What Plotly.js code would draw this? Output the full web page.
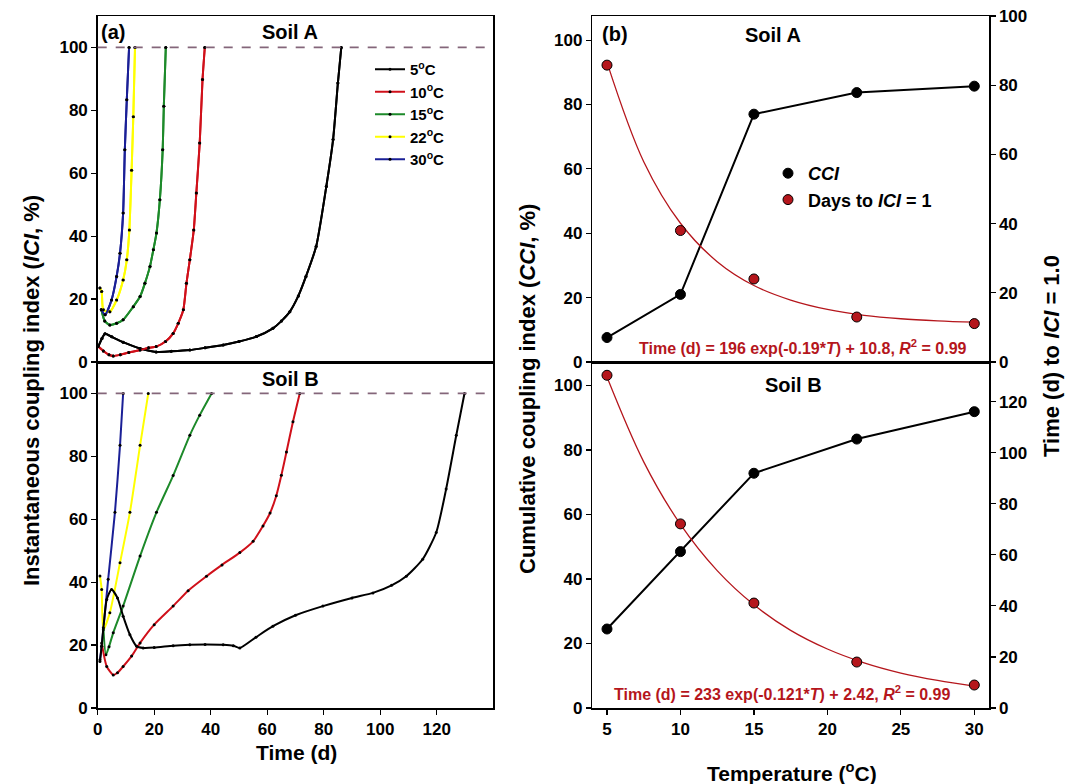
<!DOCTYPE html>
<html>
<head>
<meta charset="utf-8">
<script src="https://cdn.plot.ly/plotly-3.0.1.min.js"></script>
<style>html,body{margin:0;padding:0;background:#fff;}#chart{width:1068px;height:784px;}</style>
</head>
<body>
<div id="chart"></div>
<script>
// ---------- Panel (a): ICI vs time ----------
const tempLabels = ['5<sup>o</sup>C', '10<sup>o</sup>C', '15<sup>o</sup>C', '22<sup>o</sup>C', '30<sup>o</sup>C'];
const lineColors = ['#000000', '#d0101a', '#1d8a2a', '#ffff00', '#1a1f96'];

// Soil A
const tA5  = [0.2, 1.5, 2.6, 5, 9, 15, 20.7, 26, 32.6, 38, 44.4, 50, 56.2, 62, 65, 68, 71, 73.7, 77.3, 80.9, 83.3, 85, 86.2];
const iA5  = [4.9, 7.5, 9.0, 8.0, 6.3, 4.3, 3.2, 3.4, 3.8, 4.5, 5.4, 6.5, 8.1, 10.7, 13, 16, 21, 27.2, 36.7, 55.8, 70.7, 88.7, 100];
const tA10 = [0.2, 2, 4, 5.5, 8, 11, 15, 18, 20.7, 24, 26.7, 28.5, 30.3, 31.4, 32.6, 34, 34.9, 36.1, 37.1, 37.9];
const iA10 = [4.9, 3.5, 2.3, 1.9, 2.3, 3.0, 3.8, 4.5, 4.9, 6.5, 9.1, 12.3, 16.6, 25, 32.5, 42, 53.7, 69.6, 89.8, 100];
const tA15 = [1.3, 2.5, 4.3, 6.7, 9, 12.6, 15, 16.7, 18.5, 19.7, 20.8, 22, 23, 23.4, 24.1];
const iA15 = [16.6, 13, 11.8, 12.3, 13.4, 17.6, 20.8, 25, 30.4, 35.7, 41, 51.6, 67.5, 81.3, 100];
const tA22 = [0.8, 1.4, 2, 4.3, 6.7, 9, 10.3, 11.2, 12, 12.6, 13.2];
const iA22 = [23.5, 22.4, 16.6, 16, 19.7, 26.1, 32.5, 42, 61, 78, 100];
const tA30 = [1.3, 2.6, 4.9, 6.7, 7.9, 9, 9.6, 10.3, 11.1];
const iA30 = [16.6, 15, 19.7, 27.2, 34.6, 47.4, 67.5, 83.4, 100];

// Soil B
const tB5  = [0.8, 1.4, 3.2, 4.9, 7, 9, 11.4, 13.8, 16.1, 20, 26.7, 32.6, 38, 44.4, 48, 50.3, 56, 62, 70, 79.7, 90, 97.4, 104, 109.2, 115, 119.8, 123.3, 126.9, 129.8];
const iB5  = [14.8, 19.6, 34.5, 37.7, 35, 29.2, 23.3, 19.6, 19.1, 19.2, 19.8, 20.1, 20.2, 20.1, 19.8, 19.1, 22.5, 26, 29.5, 32.4, 35, 36.6, 39, 41.9, 47.3, 55.8, 69.6, 86.7, 100];
const tB10 = [1.4, 3.2, 5.5, 7, 9, 12, 15, 20, 26.7, 32, 38.5, 44, 50.3, 55, 58.5, 61, 63.2, 65, 66.8, 69.1, 71.5];
const iB10 = [20.7, 13.2, 10.5, 11.2, 13.2, 16.5, 20.7, 26.5, 32.4, 37.3, 41.9, 45.5, 49.4, 53, 57.9, 62, 67.5, 74, 81.4, 91, 100];
const tB15 = [2, 2.9, 4, 5.5, 9, 15, 20.8, 26.7, 32.6, 36.1, 40.3];
const iB15 = [25.5, 16.9, 19.5, 23.9, 32.4, 48.3, 62.2, 73.9, 86.7, 93.1, 100];
const tB22 = [0.8, 1.4, 2, 4.3, 7.9, 11.4, 15, 17.9];
const iB22 = [42, 37.7, 24.9, 30.3, 46.2, 62.2, 83.5, 100];
const tB30 = [0.8, 1.4, 3.7, 6.1, 7.9, 9];
const iB30 = [15.3, 19.6, 40.9, 62.2, 83.5, 100];

const iciThreshold = [100];

// ---------- Panel (b): CCI and days vs temperature ----------
const temps = [5, 10, 15, 22, 30];
const cciA  = [7.6, 21.0, 77.0, 83.7, 85.7];
const daysA = [85.8, 38.0, 24.0, 13.0, 11.1];
const cciB  = [24.5, 48.5, 72.8, 83.4, 91.9];
const daysB = [130.3, 72.1, 41.1, 18.0, 9.0];
// fitted curves
const fitT     = [5, 7.5, 10, 12.5, 15, 17.5, 20, 22.5, 25, 27.5, 30];
const fitDaysA = [86.6, 57.9, 40.1, 29.0, 22.1, 17.9, 15.2, 13.5, 12.5, 11.9, 11.5];
const fitDaysB = [129.6, 96.4, 71.9, 53.8, 40.4, 30.4, 23.1, 17.7, 13.7, 10.8, 8.6];

const eqA = 'Time (d) = 196 exp(-0.19*<i>T</i>) + 10.8, <i>R</i><sup>2</sup> = 0.99';
const eqB = 'Time (d) = 233 exp(-0.121*<i>T</i>) + 2.42, <i>R</i><sup>2</sup> = 0.99';

// ---------- build ----------
const FONT = 'Liberation Sans, Arial, sans-serif';
const RED = '#b5161c';
const W = 1068, H = 784;
const px = v => v / W;
const py = v => 1 - v / H;

const traces = [];
const setsA = [[tA5, iA5], [tA10, iA10], [tA15, iA15], [tA22, iA22], [tA30, iA30]];
const setsB = [[tB5, iB5], [tB10, iB10], [tB15, iB15], [tB22, iB22], [tB30, iB30]];
function iciTrace(d, k, xa, ya, show) {
  return {
    x: d[0], y: d[1], xaxis: xa, yaxis: ya, type: 'scatter', mode: 'lines+markers',
    name: tempLabels[k], showlegend: show, legend: 'legend',
    line: {color: lineColors[k], width: 2, shape: 'spline', smoothing: 0.6},
    marker: {symbol: 'circle', size: 3, color: '#000'}
  };
}
// draw in reverse so black is on top as in the figure
for (let k = 4; k >= 0; k--) traces.push(iciTrace(setsA[k], k, 'x2', 'y2', false));
for (let k = 4; k >= 0; k--) traces.push(iciTrace(setsB[k], k, 'x', 'y', false));
// legend entries (same data as top panel, drawn again for legend ordering)
for (let k = 0; k < 5; k++) {
  const t = iciTrace(setsA[k], k, 'x2', 'y2', true);
  t.hoverinfo = 'skip';
  traces.push(t);
}

// panel b top (Soil A)
traces.push({x: fitT, y: fitDaysA, xaxis: 'x4', yaxis: 'y6', mode: 'lines', showlegend: false,
  line: {color: RED, width: 1.3, shape: 'spline'}});
traces.push({x: temps, y: cciA, xaxis: 'x4', yaxis: 'y5', mode: 'lines', showlegend: false,
  line: {color: '#000', width: 2}});
traces.push({x: temps, y: cciA, xaxis: 'x4', yaxis: 'y5', mode: 'markers', name: '<i>CCI</i>',
  legend: 'legend2', showlegend: true,
  marker: {size: 10, color: '#000', line: {color: '#000', width: 1}}});
traces.push({x: temps, y: daysA, xaxis: 'x4', yaxis: 'y6', mode: 'markers', name: 'Days to <i>ICI</i> = 1',
  legend: 'legend2', showlegend: true,
  marker: {size: 10, color: RED, line: {color: '#000', width: 1}}});

// panel b bottom (Soil B)
traces.push({x: fitT, y: fitDaysB, xaxis: 'x3', yaxis: 'y4', mode: 'lines', showlegend: false,
  line: {color: RED, width: 1.3, shape: 'spline'}});
traces.push({x: temps, y: cciB, xaxis: 'x3', yaxis: 'y3', mode: 'lines+markers', showlegend: false,
  line: {color: '#000', width: 2},
  marker: {size: 10, color: '#000', line: {color: '#000', width: 1}}});
traces.push({x: temps, y: daysB, xaxis: 'x3', yaxis: 'y4', mode: 'markers', showlegend: false,
  marker: {size: 10, color: RED, line: {color: '#000', width: 1}}});

const tickFont = {family: FONT, size: 17, color: '#000', weight: 'bold'};
const dL = [px(97.7), px(493.3)];
const dR = [px(592.3), px(989)];
const dTop = [py(362), py(16)];
const dBot = [py(708), py(362)];
const axBase = {showline: true, linecolor: '#000', linewidth: 1.5, ticks: 'outside', ticklen: 5,
  tickcolor: '#000', tickwidth: 1.2, showgrid: false, zeroline: false, tickfont: tickFont, fixedrange: true};

const layout = {
  width: W, height: H, margin: {l: 0, r: 0, t: 0, b: 0},
  paper_bgcolor: '#fff', plot_bgcolor: 'rgba(0,0,0,0)',
  font: {family: FONT, color: '#000'},
  xaxis:  Object.assign({}, axBase, {domain: dL, range: [0, 140], anchor: 'y', tickvals: [0, 20, 40, 60, 80, 100, 120], mirror: true}),
  yaxis:  Object.assign({}, axBase, {domain: dBot, range: [0, 110], anchor: 'x', tickvals: [0, 20, 40, 60, 80, 100], mirror: true}),
  xaxis2: Object.assign({}, axBase, {domain: dL, range: [0, 140], anchor: 'y2', ticks: '', showticklabels: false, mirror: true}),
  yaxis2: Object.assign({}, axBase, {domain: dTop, range: [0, 110], anchor: 'x2', tickvals: [0, 20, 40, 60, 80, 100], mirror: true}),
  xaxis3: Object.assign({}, axBase, {domain: dR, range: [4, 31], anchor: 'y3', tickvals: [5, 10, 15, 20, 25, 30], mirror: true}),
  yaxis3: Object.assign({}, axBase, {domain: dBot, range: [0, 107.3], anchor: 'x3', tickvals: [0, 20, 40, 60, 80, 100]}),
  yaxis4: Object.assign({}, axBase, {domain: dBot, range: [0, 135.5], anchor: 'x3', overlaying: 'y3', side: 'right', tickvals: [0, 20, 40, 60, 80, 100, 120]}),
  xaxis4: Object.assign({}, axBase, {domain: dR, range: [4, 31], anchor: 'y5', ticks: '', showticklabels: false, mirror: true}),
  yaxis5: Object.assign({}, axBase, {domain: dTop, range: [0, 107.5], anchor: 'x4', tickvals: [0, 20, 40, 60, 80, 100]}),
  yaxis6: Object.assign({}, axBase, {domain: dTop, range: [0, 100], anchor: 'x4', overlaying: 'y5', side: 'right', tickvals: [0, 20, 40, 60, 80, 100]}),
  legend: {x: px(370), y: py(53), xanchor: 'left', yanchor: 'top', bgcolor: 'rgba(0,0,0,0)',
    font: {family: FONT, size: 15, color: '#000', weight: 'bold'}, tracegroupgap: 0, itemwidth: 30},
  legend2: {x: px(768), y: py(155), xanchor: 'left', yanchor: 'top', bgcolor: 'rgba(0,0,0,0)',
    font: {family: FONT, size: 18, color: '#000', weight: 'bold'}, tracegroupgap: 0},
  shapes: [
    {type: 'line', xref: 'x2 domain', x0: 0, x1: 1, yref: 'y2', y0: iciThreshold[0], y1: iciThreshold[0],
      line: {color: '#84667a', width: 1.8, dash: 'dash'}},
    {type: 'line', xref: 'x domain', x0: 0, x1: 1, yref: 'y', y0: iciThreshold[0], y1: iciThreshold[0],
      line: {color: '#84667a', width: 1.8, dash: 'dash'}}
  ],
  annotations: []
};

function ann(text, x, y, opts) {
  layout.annotations.push(Object.assign({text: text, xref: 'paper', yref: 'paper', x: px(x), y: py(y),
    showarrow: false, xanchor: 'center', yanchor: 'middle',
    font: {family: FONT, size: 20, color: '#000', weight: 'bold'}}, opts || {}));
}
ann('(a)', 99, 32, {xanchor: 'left'});
ann('Soil A', 290, 32);
ann('Soil B', 290, 379);
ann('(b)', 600, 34, {xanchor: 'left'});
ann('Soil A', 773, 35);
ann('Soil B', 793, 385);
ann(eqA, 803, 347, {font: {family: FONT, size: 16, color: RED, weight: 'bold'}});
ann(eqB, 782, 693, {font: {family: FONT, size: 16, color: RED, weight: 'bold'}});
ann('Time (d)', 296, 752, {font: {family: FONT, size: 21, color: '#000', weight: 'bold'}});
ann('Temperature (<sup>o</sup>C)', 792, 772, {font: {family: FONT, size: 21, color: '#000', weight: 'bold'}});
ann('Instantaneous coupling index (<i>ICI</i>, %)', 31, 391, {textangle: -90, font: {family: FONT, size: 22, color: '#000', weight: 'bold'}});
ann('Cumulative coupling index (<i>CCI</i>, %)', 527, 389, {textangle: -90, font: {family: FONT, size: 22, color: '#000', weight: 'bold'}});
ann('Time (d) to <i>ICI</i> = 1.0', 1051, 356, {textangle: -90, font: {family: FONT, size: 22, color: '#000', weight: 'bold'}});

Plotly.newPlot('chart', traces, layout, {displayModeBar: false, staticPlot: true});
</script>
</body>
</html>
